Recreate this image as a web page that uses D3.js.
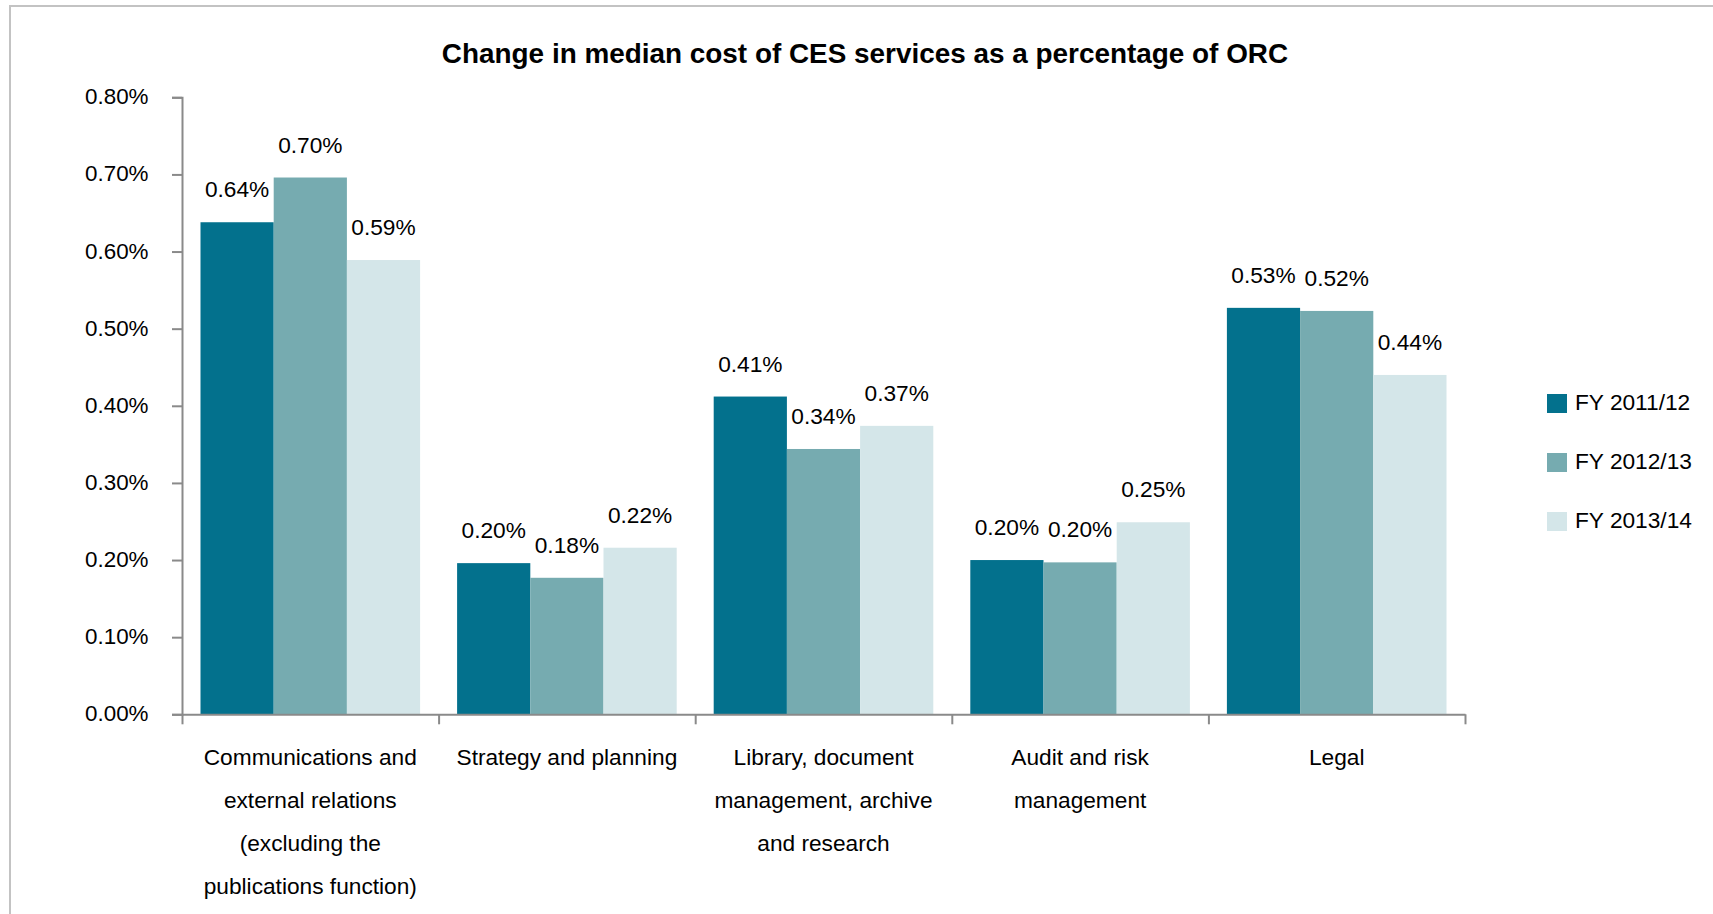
<!DOCTYPE html>
<html>
<head>
<meta charset="utf-8">
<script src="https://cdn.jsdelivr.net/npm/d3@7"></script>
<style>
  html, body { margin: 0; padding: 0; background: #fff; }
  svg { display: block; font-family: "Liberation Sans", Arial, sans-serif; }
</style>
</head>
<body>
<svg id="chart" width="1713" height="914"></svg>
<script>
// Service categories (multi-line labels)
const categories = [
  "Communications and external relations (excluding the publications function)",
  "Strategy and planning",
  "Library, document management, archive and research",
  "Audit and risk management",
  "Legal"
];
const categoryLines = [
  ["Communications and", "external relations", "(excluding the", "publications function)"],
  ["Strategy and planning"],
  ["Library, document", "management, archive", "and research"],
  ["Audit and risk", "management"],
  ["Legal"]
];

// Median cost as % of ORC, per financial year
const seriesNames = ["FY 2011/12", "FY 2012/13", "FY 2013/14"];
const fy1112 = [0.638, 0.196, 0.412, 0.200, 0.527];
const fy1213 = [0.696, 0.177, 0.344, 0.197, 0.523];
const fy1314 = [0.589, 0.216, 0.374, 0.249, 0.440];
const seriesValues = [fy1112, fy1213, fy1314];
const seriesColors = ["#03718d", "#76abb0", "#d4e6e9"];

const yTicks = [0, 0.1, 0.2, 0.3, 0.4, 0.5, 0.6, 0.7, 0.8];

const svg = d3.select("#chart");
const textSize = 22.7;

// Outer frame
svg.append("rect")
  .attr("x", 10).attr("y", 6)
  .attr("width", 1720).attr("height", 930)
  .attr("fill", "#fff")
  .attr("stroke", "#c3c3c3")
  .attr("stroke-width", 2);

// Title
svg.append("text")
  .attr("x", 865).attr("y", 62.5)
  .attr("text-anchor", "middle")
  .attr("font-size", 27.9)
  .attr("font-weight", "bold")
  .attr("fill", "#000")
  .text("Change in median cost of CES services as a percentage of ORC");

const plotLeft = 182, plotRight = 1465;
const y = d3.scaleLinear().domain([0, 0.8]).range([714.3, 97.3]);
const x0 = d3.scaleBand().domain(categories).range([plotLeft, plotRight]).padding(0);
const groupPad = 18.5;
const x1 = d3.scaleBand().domain(seriesNames)
  .range([groupPad, x0.bandwidth() - groupPad]).padding(0);

// Bars
const rows = [];
categories.forEach((c, i) => {
  seriesNames.forEach((s, j) => rows.push({ cat: c, series: s, value: seriesValues[j][i], color: seriesColors[j] }));
});

svg.append("g").selectAll("rect")
  .data(rows)
  .join("rect")
  .attr("x", d => x0(d.cat) + x1(d.series))
  .attr("y", d => y(d.value))
  .attr("width", x1.bandwidth())
  .attr("height", d => y(0) - y(d.value))
  .attr("fill", d => d.color);

// Value labels
svg.append("g").selectAll("text")
  .data(rows)
  .join("text")
  .attr("x", d => x0(d.cat) + x1(d.series) + x1.bandwidth() / 2)
  .attr("y", d => y(d.value) - 25)
  .attr("text-anchor", "middle")
  .attr("font-size", textSize)
  .attr("fill", "#000")
  .text(d => d.value.toFixed(2) + "%");

// Y axis
const axisColor = "#8a8a8a";
const yAxis = svg.append("g")
  .attr("transform", `translate(${plotLeft},0)`)
  .call(d3.axisLeft(y).tickValues(yTicks).tickSize(10).tickPadding(23.5)
    .tickFormat(d => d.toFixed(2) + "%"));
yAxis.select(".domain").attr("stroke", axisColor).attr("stroke-width", 2);
yAxis.selectAll(".tick line").attr("stroke", axisColor).attr("stroke-width", 2);
yAxis.selectAll(".tick text")
  .attr("font-size", 22.4).attr("font-family", "Liberation Sans, Arial, sans-serif")
  .attr("fill", "#000").attr("dy", "0.29em");

// X axis: tick marks at category boundaries
const xb = d3.scaleLinear().domain([0, categories.length]).range([plotLeft, plotRight]);
const xAxis = svg.append("g")
  .attr("transform", `translate(0,${y(0)})`)
  .call(d3.axisBottom(xb).tickValues(d3.range(categories.length + 1)).tickSize(10)
    .tickSizeOuter(0).tickFormat(""));
xAxis.select(".domain").attr("stroke", axisColor).attr("stroke-width", 2);
xAxis.selectAll(".tick line").attr("stroke", axisColor).attr("stroke-width", 2);

// Category labels
const catG = svg.append("g").selectAll("text")
  .data(categories)
  .join("text")
  .attr("text-anchor", "middle")
  .attr("font-size", textSize)
  .attr("fill", "#000");
catG.each(function (c, i) {
  const cx = x0(c) + x0.bandwidth() / 2;
  d3.select(this).selectAll("tspan")
    .data(categoryLines[i])
    .join("tspan")
    .attr("x", cx)
    .attr("y", (d, k) => y(0) + 51 + k * 43)
    .text(d => d);
});

// Legend
const legend = svg.append("g").selectAll("g")
  .data(seriesNames)
  .join("g")
  .attr("transform", (d, i) => `translate(1547,${394 + i * 59})`);
legend.append("rect")
  .attr("width", 20).attr("height", 19)
  .attr("fill", (d, i) => seriesColors[i]);
legend.append("text")
  .attr("x", 28).attr("y", 16)
  .attr("font-size", textSize)
  .attr("fill", "#000")
  .text(d => d);
</script>
</body>
</html>
